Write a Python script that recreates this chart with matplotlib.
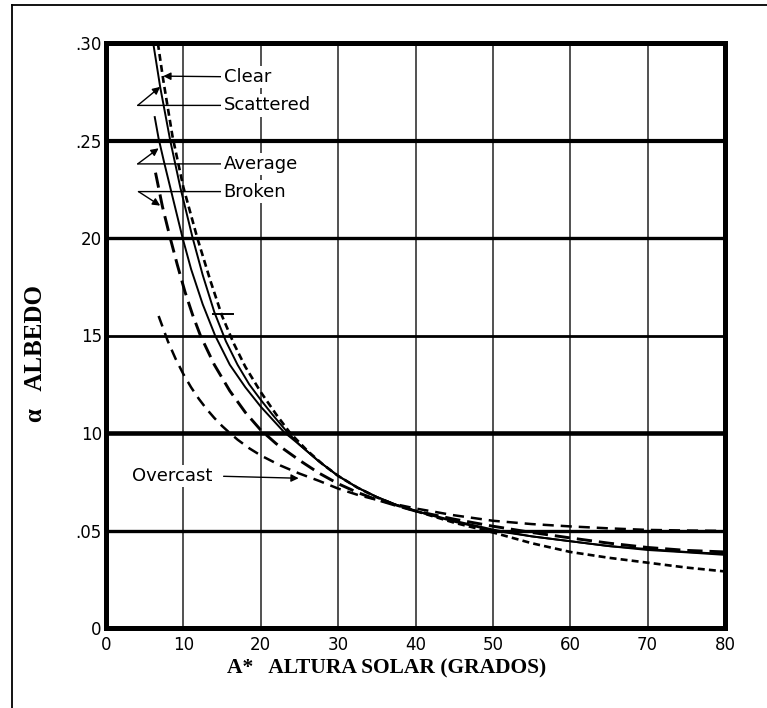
import matplotlib
matplotlib.use("Agg")
import matplotlib.pyplot as plt
from matplotlib.lines import Line2D

plt.rcParams['lines.scale_dashes'] = False

# ---------------- data ----------------
clear_x = [6.7, 7.4, 8.6, 10, 11.8, 13.5, 15, 16.5, 18, 20, 22, 23.8, 26, 28, 30, 32.5, 35, 37.5,
           40, 45, 50, 55, 60, 65, 70, 75, 80]
clear_y = [0.300, 0.281, 0.252, 0.226, 0.200, 0.178, 0.160, 0.146, 0.134, 0.121, 0.1095, 0.100, 0.091,
           0.084, 0.078, 0.072, 0.067, 0.063, 0.060, 0.054, 0.049, 0.0435, 0.039, 0.036, 0.0335, 0.031, 0.029]

scattered_x = [6.1, 7.0, 8.3, 9.6, 11.2, 12.5, 14.0, 15.5, 17.0, 18.5, 20, 21.5, 23.2, 25, 27.5, 30,
               32.5, 35, 37.5, 40, 45, 50, 55, 60, 65, 70, 75, 80]
scattered_y = [0.300, 0.2775, 0.250, 0.226, 0.200, 0.181, 0.162, 0.147, 0.135, 0.125, 0.117, 0.1095,
               0.1015, 0.094, 0.0855, 0.078, 0.072, 0.0672, 0.0632, 0.060, 0.0545, 0.050, 0.047, 0.0445,
               0.042, 0.040, 0.0388, 0.0375]

average_x = [6.3, 6.8, 7.5, 8.3, 9.1, 9.9, 11, 12.5, 14.1, 16, 18, 20, 21.5, 23, 25, 27.5, 30, 32.5,
             35, 37.5, 40, 45, 50, 55, 60, 65, 70, 75, 80]
average_y = [0.262, 0.251, 0.239, 0.226, 0.213, 0.200, 0.184, 0.166, 0.150, 0.135, 0.1235, 0.1135,
             0.107, 0.1005, 0.094, 0.0855, 0.078, 0.072, 0.0672, 0.0632, 0.060, 0.055, 0.0505, 0.047,
             0.0445, 0.042, 0.0405, 0.039, 0.038]

broken_x = [6.4, 7.3, 8.3, 9.2, 10.2, 11.2, 12.2, 14, 16, 18, 20, 22, 25, 27.5, 30, 32.5, 35, 37.5,
            40, 45, 50, 55, 60, 65, 70, 75, 80]
broken_y = [0.2335, 0.216, 0.200, 0.1865, 0.1725, 0.1605, 0.150, 0.135, 0.1216, 0.1106, 0.1015, 0.0945,
            0.086, 0.0795, 0.074, 0.0695, 0.0658, 0.0628, 0.060, 0.0558, 0.0522, 0.049, 0.0462, 0.0435,
            0.0413, 0.0398, 0.039]

overcast_x = [6.8, 8, 9, 10, 11, 12, 13, 14, 15, 15.8, 17, 18.5, 20, 22.5, 25, 27.5, 30, 32.5, 35,
              37.5, 40, 45, 50, 55, 60, 65, 70, 75, 80]
overcast_y = [0.160, 0.1470, 0.1380, 0.1302, 0.1234, 0.1175, 0.1123, 0.1077, 0.1036, 0.1007, 0.0966,
              0.0922, 0.0885, 0.0834, 0.0792, 0.0755, 0.0715, 0.0683, 0.0657, 0.0634, 0.0613, 0.0578,
              0.0550, 0.0533, 0.0521, 0.0511, 0.0503, 0.050, 0.0498]

x_ticks = [0, 10, 20, 30, 40, 50, 60, 70, 80]
x_tick_labels = ['0', '10', '20', '30', '40', '50', '60', '70', '80']
y_ticks = [0, 0.05, 0.10, 0.15, 0.20, 0.25, 0.30]
y_tick_labels = ['0', '.05', '10', '15', '20', '.25', '.30']

# small stray horizontal mark on the curves
stub_x = [13.8, 16.4]
stub_y = [0.1608, 0.1608]

# ---------------- figure ----------------
fig = plt.figure(figsize=(7.67, 7.08), dpi=100)
fig.patch.set_facecolor('white')

# outer frame (top and left edges)
fig.add_artist(Line2D([12 / 767, 12 / 767], [0, 1 - 5 / 708], transform=fig.transFigure,
                      color='black', lw=1.3))
fig.add_artist(Line2D([12 / 767, 1], [1 - 5 / 708, 1 - 5 / 708], transform=fig.transFigure,
                      color='black', lw=1.3))

ax = fig.add_axes([106 / 767, 1 - 628 / 708, (725 - 106) / 767, (628 - 43) / 708])
ax.set_xlim(0, 80)
ax.set_ylim(0, 0.30)

# grid
for xv in x_ticks[1:-1]:
    ax.axvline(xv, color='#222222', lw=1.1, zorder=1)
h_widths = {0.05: 2.4, 0.10: 3.3, 0.15: 2.0, 0.20: 2.4, 0.25: 3.0}
for yv, w in h_widths.items():
    ax.axhline(yv, color='black', lw=w, zorder=1)

# curves
ax.plot(clear_x, clear_y, color='black', lw=1.9, ls=(0, (5, 3)), zorder=3)
ax.plot(scattered_x, scattered_y, color='black', lw=1.4, ls='-', zorder=3)
ax.plot(average_x, average_y, color='black', lw=1.4, ls='-', zorder=3)
ax.plot(broken_x, broken_y, color='black', lw=2.1, ls=(0, (11, 5)), zorder=3)
ax.plot(overcast_x, overcast_y, color='black', lw=1.8, ls=(0, (8, 5)), zorder=3)
ax.plot(stub_x, stub_y, color='black', lw=1.4, zorder=3)

# spines and ticks
for s in ax.spines.values():
    s.set_linewidth(3.6)
    s.set_zorder(5)
ax.set_xticks(x_ticks)
ax.set_xticklabels(x_tick_labels)
ax.set_yticks(y_ticks)
ax.set_yticklabels(y_tick_labels)
ax.tick_params(axis='both', length=0, labelsize=12)
ax.tick_params(axis='x', pad=6)
ax.tick_params(axis='y', pad=3)

# annotations
tfont = dict(fontsize=13, family='DejaVu Sans', va='center', ha='left', zorder=6,
             bbox=dict(fc='white', ec='none', pad=1.5))
ap_arrow = dict(arrowstyle='-|>', color='black', lw=1.0, shrinkA=0, shrinkB=0, mutation_scale=11)
ap_line = dict(arrowstyle='-', color='black', lw=1.0, shrinkA=0, shrinkB=0)

# Clear
ax.annotate('Clear', xy=(7.4, 0.283), xytext=(15.2, 0.2826), arrowprops=ap_arrow, **tfont)
# Scattered
ax.annotate('Scattered', xy=(4.1, 0.268), xytext=(15.2, 0.268), arrowprops=ap_line, **tfont)
ax.annotate('', xy=(7.0, 0.2775), xytext=(4.1, 0.268), arrowprops=ap_arrow)
# Average
ax.annotate('Average', xy=(4.1, 0.238), xytext=(15.2, 0.238), arrowprops=ap_line, **tfont)
ax.annotate('', xy=(6.8, 0.246), xytext=(4.1, 0.238), arrowprops=ap_arrow)
# Broken
ax.annotate('Broken', xy=(4.2, 0.2238), xytext=(15.2, 0.2238), arrowprops=ap_line, **tfont)
ax.annotate('', xy=(7.0, 0.2166), xytext=(4.2, 0.2238), arrowprops=ap_arrow)
# Overcast
ax.text(3.4, 0.0778, 'Overcast', **tfont)
ax.annotate('', xy=(24.9, 0.0768), xytext=(15.2, 0.0778), arrowprops=ap_arrow)

# axis titles
fig.text(36 / 767, 1 - 354 / 708, 'α   ALBEDO', rotation=90, ha='center', va='center',
         family='Liberation Serif', fontweight='bold', fontsize=18)
fig.text(387 / 767, 1 - 668 / 708, 'A*   ALTURA SOLAR (GRADOS)', ha='center', va='center',
         family='Liberation Serif', fontweight='bold', fontsize=15.5)

fig.savefig('out.png', dpi=100, facecolor='white')
